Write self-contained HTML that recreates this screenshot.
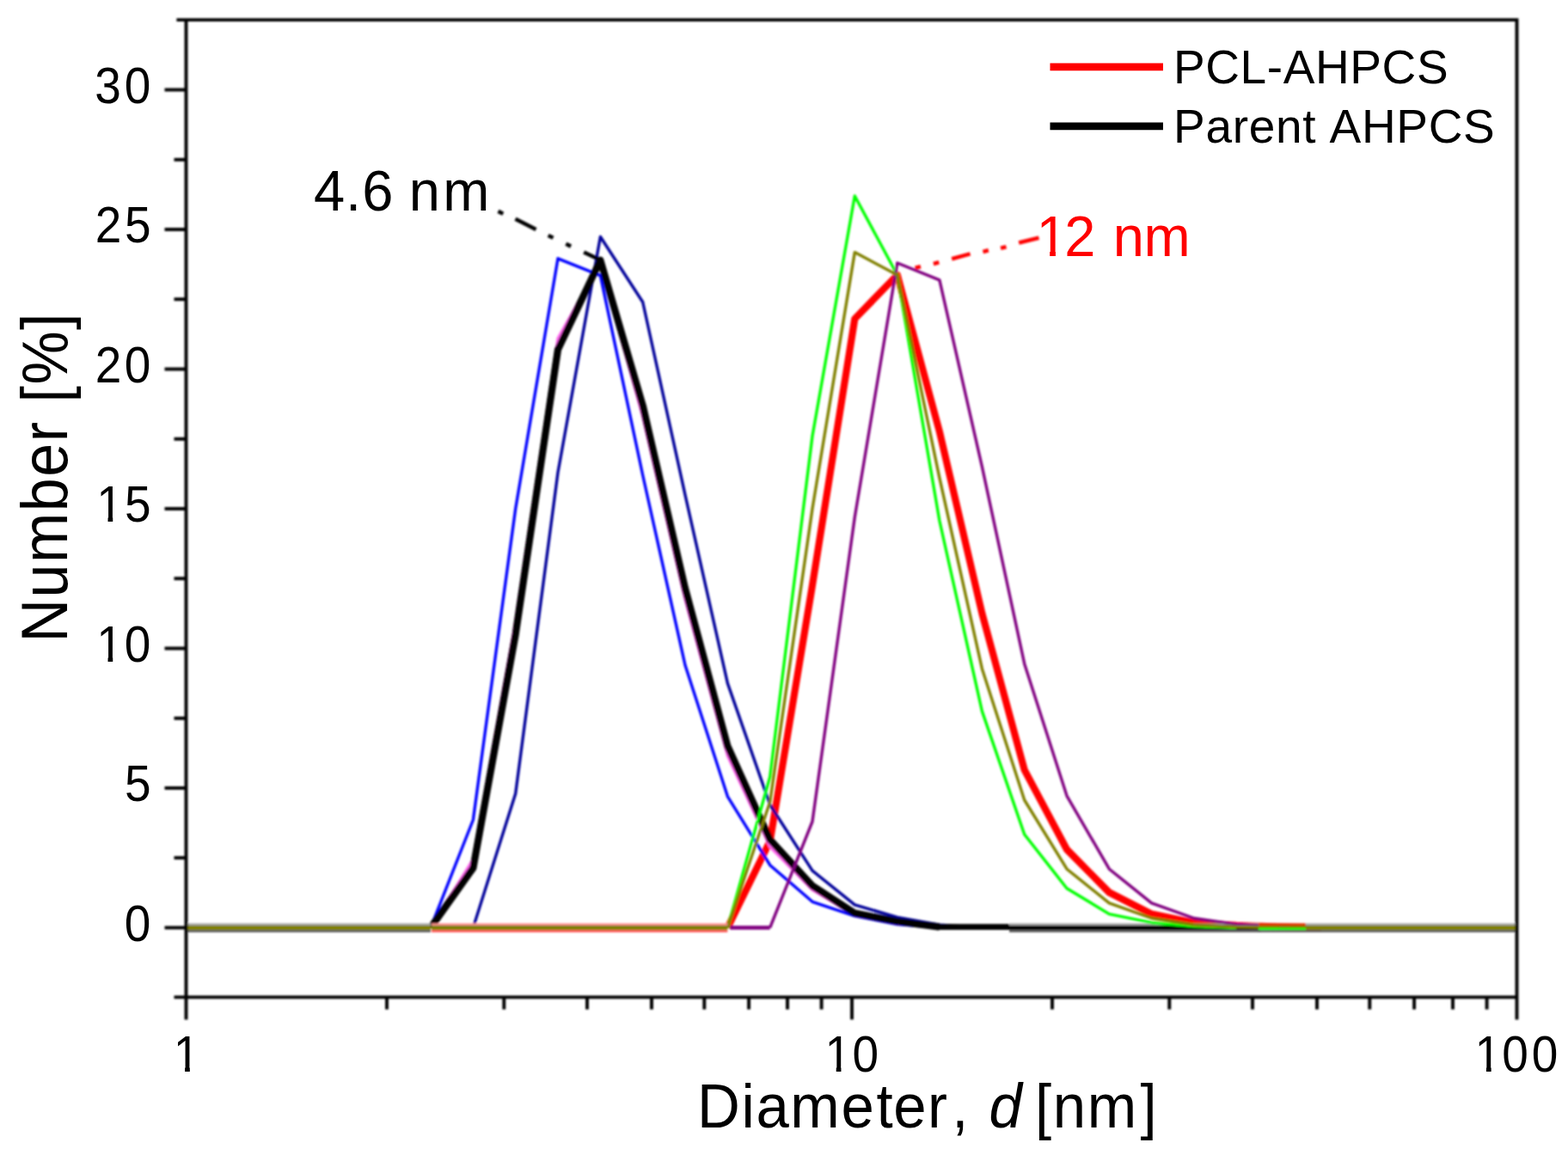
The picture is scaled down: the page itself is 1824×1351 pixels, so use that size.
<!DOCTYPE html>
<html lang="en"><head><meta charset="utf-8"><title>Number distribution vs diameter</title>
<style>html,body{margin:0;padding:0;background:#fff}body{width:1824px;height:1351px;overflow:hidden}svg{display:block}</style></head>
<body>
<svg width="1824" height="1351" viewBox="0 0 1824 1351">
<rect width="1824" height="1351" fill="#fff"/>
<filter id="bl" x="0" y="0" width="1824" height="1351" filterUnits="userSpaceOnUse"><feGaussianBlur stdDeviation="0.85"/></filter>
<filter id="bt" x="0" y="0" width="1824" height="1351" filterUnits="userSpaceOnUse"><feGaussianBlur stdDeviation="0.6"/></filter>
<g filter="url(#bl)">
<clipPath id="cp"><rect x="217" y="23" width="1548" height="1138"/></clipPath>
<g clip-path="url(#cp)">
<polyline points="846.4,1079.5 895.7,978.8 945.0,681.0 994.3,371.0 1043.8,320.0 1092.9,502.3 1142.4,713.9 1191.7,895.9 1241.0,988.5 1290.3,1038.5 1339.6,1063.6 1389.0,1073.7 1438.3,1076.9 1487.7,1078.5 1537.0,1079.5" fill="none" stroke="#ff0000" stroke-width="8.2" stroke-linejoin="round" stroke-linecap="butt"/>
<polyline points="501.0,1079.5 550.4,954.0 599.7,592.0 649.0,300.8 698.4,320.6 747.7,553.0 797.0,774.0 846.4,926.8 895.7,1006.7 945.0,1049.3 994.3,1065.8 1043.8,1075.6 1092.9,1079.5" fill="none" stroke="#0000ff" stroke-width="3.4" stroke-linejoin="round" stroke-linecap="butt"/>
<polyline points="550.4,1079.5 599.7,923.5 649.0,549.8 698.4,275.5 747.7,351.5 797.0,575.8 846.4,795.1 895.7,936.5 945.0,1013.2 994.3,1052.8 1043.8,1067.5 1092.9,1076.2 1142.4,1079.5" fill="none" stroke="#00009a" stroke-width="3.4" stroke-linejoin="round" stroke-linecap="butt"/>
<polyline points="501.0,1079.5 550.4,999.9 599.7,723.6 649.0,393.8 698.4,306.0 747.7,484.8 797.0,697.6 846.4,879.6 895.7,985.2 945.0,1035.6 994.3,1064.9 1043.8,1074.6 1092.9,1079.5" fill="none" stroke="#ff66ee" stroke-width="3.4" stroke-linejoin="round" stroke-linecap="butt"/>
<polyline points="501.0,1079.5 550.4,1010.0 599.7,738.2 649.0,406.8 698.4,302.8 747.7,471.8 797.0,684.6 846.4,868.2 895.7,977.1 945.0,1030.8 994.3,1062.6 1043.8,1072.3 1092.9,1078.6" fill="none" stroke="#000000" stroke-width="8.2" stroke-linejoin="round" stroke-linecap="butt"/>
<rect x="1091.9" y="1075.2" width="82.1" height="6.8" fill="#000000"/>
<rect x="1174.0" y="1074.4" width="292.0" height="2.7" fill="#a8a8a8"/><rect x="1174.0" y="1076.9" width="292.0" height="5.5" fill="#000000"/><rect x="1174.0" y="1082.2" width="292.0" height="2.6" fill="#555555"/>
<polyline points="846.4,1079.5 895.7,904.0 945.0,507.5 994.3,228.0 1043.8,320.0 1092.9,606.0 1142.4,827.6 1191.7,971.0 1241.0,1033.7 1290.3,1063.6 1339.6,1073.7 1389.0,1077.9 1438.3,1079.5" fill="none" stroke="#00ff00" stroke-width="3.4" stroke-linejoin="round" stroke-linecap="butt"/>
<polyline points="895.7,1079.5 945.0,956.0 994.3,601.8 1043.8,306.0 1092.9,325.8 1142.4,543.2 1191.7,772.4 1241.0,926.1 1290.3,1011.2 1339.6,1050.9 1389.0,1068.5 1438.3,1075.6 1487.7,1078.5 1537.0,1079.5" fill="none" stroke="#800080" stroke-width="3.4" stroke-linejoin="round" stroke-linecap="butt"/>
<polyline points="846.4,1079.5 895.7,933.2 945.0,592.0 994.3,293.6 1043.8,320.0 1092.9,556.2 1142.4,778.2 1191.7,931.0 1241.0,1011.2 1290.3,1050.9 1339.6,1068.5 1389.0,1076.2 1438.3,1078.5 1487.7,1079.5" fill="none" stroke="#808000" stroke-width="3.4" stroke-linejoin="round" stroke-linecap="butt"/>
<rect x="217.0" y="1074.4" width="284.0" height="2.7" fill="#a8a8a8"/><rect x="217.0" y="1076.9" width="284.0" height="5.5" fill="#808000"/><rect x="217.0" y="1082.2" width="284.0" height="2.6" fill="#555555"/>
<rect x="502.0" y="1074.4" width="344.3" height="2.7" fill="#ff9090"/><rect x="502.0" y="1076.9" width="344.3" height="5.5" fill="#808000"/><rect x="502.0" y="1082.2" width="344.3" height="2.6" fill="#ff5050"/>
<rect x="849.4" y="1077.2" width="46.3" height="4.6" fill="#800080"/>
<rect x="1464.0" y="1074.4" width="55.0" height="3.1" fill="#e03000"/><rect x="1464.0" y="1077.3" width="55.0" height="2.5" fill="#808000"/><rect x="1464.0" y="1079.6" width="55.0" height="2.8" fill="#00ff00"/><rect x="1464.0" y="1082.2" width="55.0" height="2.6" fill="#555555"/>
<rect x="1519.0" y="1074.4" width="247.0" height="2.7" fill="#a8a8a8"/><rect x="1519.0" y="1076.9" width="247.0" height="5.5" fill="#808000"/><rect x="1519.0" y="1082.2" width="247.0" height="2.6" fill="#555555"/>
</g>
<line x1="579.5" y1="245.9" x2="585.3" y2="248.7" stroke="#000" stroke-width="4.6"/>
<line x1="599.5" y1="254.8" x2="623.5" y2="267.0" stroke="#000" stroke-width="4.6"/>
<line x1="637.7" y1="274.0" x2="643.5" y2="276.8" stroke="#000" stroke-width="4.6"/>
<line x1="658.3" y1="283.8" x2="664.1" y2="286.6" stroke="#000" stroke-width="4.6"/>
<line x1="679.2" y1="293.5" x2="698.2" y2="302.5" stroke="#000" stroke-width="4.6"/>
<line x1="1064.6" y1="311.8" x2="1071.0" y2="310.2" stroke="#f00" stroke-width="4.6"/>
<line x1="1085.9" y1="306.9" x2="1092.3" y2="305.3" stroke="#f00" stroke-width="4.6"/>
<line x1="1107.2" y1="301.2" x2="1128.6" y2="295.4" stroke="#f00" stroke-width="4.6"/>
<line x1="1143.5" y1="292.9" x2="1149.9" y2="291.3" stroke="#f00" stroke-width="4.6"/>
<line x1="1164.1" y1="288.8" x2="1170.5" y2="287.2" stroke="#f00" stroke-width="4.6"/>
<line x1="1185.2" y1="282.4" x2="1208.5" y2="276.7" stroke="#f00" stroke-width="4.6"/>
<g stroke="#000" stroke-width="3.9" fill="none" stroke-linecap="butt">
<path d="M205.4 23.1 H1764.5 V1186.4"/>
<path d="M216.5 23.1 V1186.4"/>
<path d="M202.5 1160.4 H1764.5"/>
<path d="M191.5 1079.5 H217"/>
<path d="M191.5 917.0 H217"/>
<path d="M191.5 754.5 H217"/>
<path d="M191.5 592.0 H217"/>
<path d="M191.5 429.5 H217"/>
<path d="M191.5 267.0 H217"/>
<path d="M191.5 104.5 H217"/>
<path d="M202.5 998.2 H217"/>
<path d="M202.5 835.8 H217"/>
<path d="M202.5 673.2 H217"/>
<path d="M202.5 510.8 H217"/>
<path d="M202.5 348.2 H217"/>
<path d="M202.5 185.8 H217"/>
<path d="M450.0 1160.4 V1174.6000000000001"/>
<path d="M586.3 1160.4 V1174.6000000000001"/>
<path d="M683.0 1160.4 V1174.6000000000001"/>
<path d="M758.0 1160.4 V1174.6000000000001"/>
<path d="M819.3 1160.4 V1174.6000000000001"/>
<path d="M871.1 1160.4 V1174.6000000000001"/>
<path d="M916.0 1160.4 V1174.6000000000001"/>
<path d="M955.6 1160.4 V1174.6000000000001"/>
<path d="M1224.0 1160.4 V1174.6000000000001"/>
<path d="M1360.3 1160.4 V1174.6000000000001"/>
<path d="M1457.0 1160.4 V1174.6000000000001"/>
<path d="M1532.0 1160.4 V1174.6000000000001"/>
<path d="M1593.3 1160.4 V1174.6000000000001"/>
<path d="M1645.1 1160.4 V1174.6000000000001"/>
<path d="M1690.0 1160.4 V1174.6000000000001"/>
<path d="M1729.6 1160.4 V1174.6000000000001"/>
<path d="M991.0 1160.4 V1186.4"/>
</g>
</g>
<g filter="url(#bt)">
<text transform="translate(0,1094.8) scale(1,1.08)" x="144.7" y="0" font-family="Liberation Sans, sans-serif" font-size="55" fill="#000" xml:space="preserve">0</text>
<text transform="translate(0,932.3) scale(1,1.08)" x="144.9" y="0" font-family="Liberation Sans, sans-serif" font-size="55" fill="#000" xml:space="preserve">5</text>
<text transform="translate(0,769.8) scale(1,1.08)" x="112.2 144.7" y="0" font-family="Liberation Sans, sans-serif" font-size="55" fill="#000" xml:space="preserve">10</text><rect x="114.91" y="764.14" width="10.62" height="7.16" fill="#fff"/><rect x="131.24" y="764.14" width="10.45" height="7.16" fill="#fff"/>
<text transform="translate(0,607.3) scale(1,1.08)" x="112.2 144.9" y="0" font-family="Liberation Sans, sans-serif" font-size="55" fill="#000" xml:space="preserve">15</text><rect x="114.91" y="601.64" width="10.62" height="7.16" fill="#fff"/><rect x="131.24" y="601.64" width="10.45" height="7.16" fill="#fff"/>
<text transform="translate(0,444.8) scale(1,1.08)" x="110.7 144.7" y="0" font-family="Liberation Sans, sans-serif" font-size="55" fill="#000" xml:space="preserve">20</text>
<text transform="translate(0,282.3) scale(1,1.08)" x="110.7 144.9" y="0" font-family="Liberation Sans, sans-serif" font-size="55" fill="#000" xml:space="preserve">25</text>
<text transform="translate(0,119.8) scale(1,1.08)" x="110.3 144.7" y="0" font-family="Liberation Sans, sans-serif" font-size="55" fill="#000" xml:space="preserve">30</text>
<text transform="translate(0,1246.6) scale(1,1.08)" x="201.8" y="0" font-family="Liberation Sans, sans-serif" font-size="55" fill="#000" xml:space="preserve">1</text><rect x="204.50" y="1240.94" width="10.62" height="7.16" fill="#fff"/><rect x="220.84" y="1240.94" width="10.45" height="7.16" fill="#fff"/>
<text transform="translate(0,1246.6) scale(1,1.08)" x="959.4 991.5" y="0" font-family="Liberation Sans, sans-serif" font-size="55" fill="#000" xml:space="preserve">10</text><rect x="962.11" y="1240.94" width="10.62" height="7.16" fill="#fff"/><rect x="978.44" y="1240.94" width="10.45" height="7.16" fill="#fff"/>
<text transform="translate(0,1246.6) scale(1,1.08)" x="1715.6 1747.2 1781.7" y="0" font-family="Liberation Sans, sans-serif" font-size="55" fill="#000" xml:space="preserve">100</text><rect x="1718.31" y="1240.94" width="10.62" height="7.16" fill="#fff"/><rect x="1734.64" y="1240.94" width="10.45" height="7.16" fill="#fff"/>
<text transform="translate(0,1312.2) scale(1,1.045)" x="811.0 862.4 879.4 919.3 978.4 1019.4 1039.2 1079.1 1107.3 1124.5 1150.5 1180.5 1204.0 1224.8 1264.7 1326.4" y="0" font-family="Liberation Sans, sans-serif" font-size="69" fill="#000" xml:space="preserve">Diameter, <tspan font-style="italic">d</tspan> [nm]</text>
<text transform="translate(78.3,556) rotate(-90) scale(1,1.08)" x="-191.5 -139.4 -99.0 -39.2 1.2 41.7 66.5 87.4 108.4 172.1" y="0" font-family="Liberation Sans, sans-serif" font-size="70" xml:space="preserve">Number [%]</text>
<text transform="translate(0,245.3) scale(1,1.03)" x="365.0 402.1 421.2 458.4 475.7 515.2" y="0" font-family="Liberation Sans, sans-serif" font-size="65" fill="#000" xml:space="preserve">4.6 nm</text>
<text transform="translate(0,297.6) scale(1,1.03)" x="1205.4 1238.2 1275.0 1294.8 1330.6" y="0" font-family="Liberation Sans, sans-serif" font-size="65" fill="#f00" xml:space="preserve">12 nm</text><rect x="1208.65" y="291.38" width="12.54" height="7.72" fill="#fff"/><rect x="1227.96" y="291.38" width="12.35" height="7.72" fill="#fff"/>
<line x1="1221.5" y1="77.8" x2="1353" y2="77.8" stroke="#f00" stroke-width="8.8"/>
<line x1="1221.5" y1="146.8" x2="1353" y2="146.8" stroke="#000" stroke-width="8.8"/>
<text x="1365" y="97" font-family="Liberation Sans, sans-serif" font-size="55" letter-spacing="0.6">PCL-AHPCS</text>
<text x="1365" y="166" font-family="Liberation Sans, sans-serif" font-size="55" letter-spacing="0.7" word-spacing="2.3">Parent AHPCS</text>
</g>
</svg>
</body></html>
